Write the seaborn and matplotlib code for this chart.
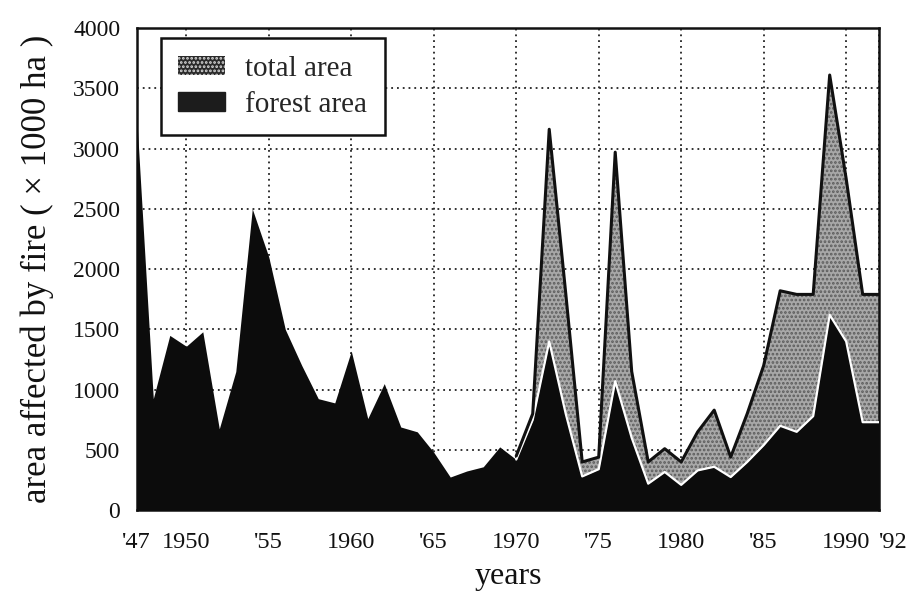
import numpy as np
import pandas as pd
import matplotlib
matplotlib.use("Agg")
import matplotlib.pyplot as plt
from matplotlib.patches import Patch
import seaborn as sns

# yearly area affected by fire (x 1000 ha)
years = list(range(1947, 1993))
forest_area = [3250, 925, 1450, 1360, 1480, 675, 1150, 2500, 2100, 1500,
               1200, 925, 890, 1320, 760, 1050, 690, 650, 480, 275,
               325, 360, 525, 420, 750, 1400, 800, 280, 340, 1070,
               600, 220, 317, 210, 330, 360, 275, 400, 540, 700,
               650, 780, 1620, 1400, 730, 730]

total_years = list(range(1970, 1993))
total_area = [450, 800, 3160, 1800, 400, 440, 2970, 1150, 400, 510,
              400, 650, 830, 440, 800, 1200, 1820, 1790, 1790, 3610,
              2750, 1790, 1790]

tick_years = [1947, 1950, 1955, 1960, 1965, 1970, 1975, 1980, 1985, 1990, 1992]
tick_labels = ["'47", "1950", "'55", "1960", "'65", "1970", "'75", "1980",
               "'85", "1990", "'92"]
y_ticks = list(range(0, 4001, 500))


def main():
    sns.set_theme(style="white")
    plt.rcParams['font.family'] = ['Liberation Serif', 'DejaVu Serif']
    plt.rcParams['hatch.linewidth'] = 1.3

    forest = pd.DataFrame({'year': years, 'area': forest_area})
    total = pd.DataFrame({'year': total_years, 'area': total_area})
    overlap = forest[forest['year'] >= total_years[0]]

    fig, ax = plt.subplots(figsize=(9.12, 5.96), dpi=100)
    fig.subplots_adjust(left=0.150, right=0.964, top=0.953, bottom=0.144)

    # total area: stippled grey
    ax.fill_between(total['year'], total['area'], facecolor='#a8a8a8',
                    hatch='....', edgecolor='#5c5c5c', linewidth=0, zorder=2)
    # forest area: black
    ax.fill_between(forest['year'], forest['area'], facecolor='#0c0c0c',
                    linewidth=0, zorder=3)
    sns.lineplot(data=overlap, x='year', y='area', color='white',
                 linewidth=1.6, ax=ax, zorder=4)
    sns.lineplot(data=total, x='year', y='area', color='#111111',
                 linewidth=2.2, ax=ax, zorder=5)

    ax.set_xlim(years[0], years[-1])
    ax.set_ylim(0, 4000)
    ax.set_xticks(tick_years)
    ax.set_xticklabels(tick_labels)
    ax.set_yticks(y_ticks)
    ax.tick_params(axis='both', length=0, colors='#111111')
    ax.tick_params(axis='x', pad=16, labelsize=17.5)
    ax.tick_params(axis='y', pad=12, labelsize=17)
    xlabels = ax.get_xticklabels()
    xlabels[-1].set_horizontalalignment('left')

    ax.grid(True, color='#222222', linestyle=(0, (1, 2.2)), linewidth=1.3)
    ax.set_axisbelow(True)
    for side in ['left', 'right', 'top', 'bottom']:
        ax.spines[side].set_visible(True)
        ax.spines[side].set_color('#111111')
        ax.spines[side].set_linewidth(1.8)

    ax.set_xlabel('years', fontsize=23, labelpad=6, color='#111111')
    ax.set_ylabel('area affected by fire ( × 1000 ha )', fontsize=25,
                  labelpad=14, color='#111111')

    handles = [Patch(facecolor='#2a2a2a', edgecolor='#d8d8d8', hatch='....',
                     linewidth=0, label='total area'),
               Patch(facecolor='#1c1c1c', edgecolor='#1c1c1c',
                     label='forest area')]
    leg = ax.legend(handles=handles, loc='upper left',
                    bbox_to_anchor=(0.032, 0.979), borderaxespad=0,
                    fontsize=21, frameon=True, fancybox=False, framealpha=1,
                    edgecolor='#111111', handlelength=1.6, handleheight=0.6,
                    handletextpad=0.7, borderpad=0.6, labelspacing=0.35)
    leg.get_frame().set_linewidth(1.8)
    leg.set_zorder(10)

    fig.savefig('out.png', dpi=100, facecolor='white')


if __name__ == "__main__":
    main()
